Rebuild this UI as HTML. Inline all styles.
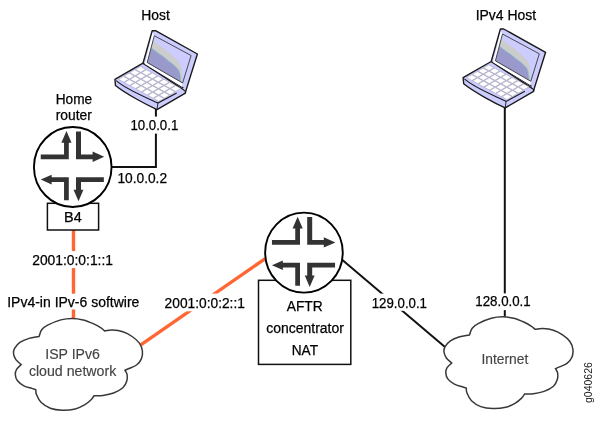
<!DOCTYPE html><html><head><meta charset="utf-8"><style>html,body{margin:0;padding:0;background:#fff;}svg{display:block;will-change:transform;}text{font-family:"Liberation Sans",sans-serif;fill:#000;stroke:#000;stroke-width:0.25px;}</style></head><body>
<svg width="600" height="424" viewBox="0 0 600 424">
<defs><g id="router"><ellipse cx="0" cy="0" rx="38.8" ry="40" fill="#fff" stroke="#000" stroke-width="1.9"/><path d="M-32,-12.6 L-8.7,-12.6 L-8.7,-24.2 L-11.4,-24.2 L-6.3,-35.9 L-1.2,-24.2 L-3.95,-24.2 L-3.95,-7.8 L-32,-7.8 Z" fill="#333"/><path d="M3.25,-35.5 L8.25,-35.5 L8.25,-12.6 L19.85,-12.6 L19.85,-15.4 L31.45,-10.2 L19.85,-5.0 L19.85,-7.8 L3.25,-7.8 Z" fill="#333"/><path d="M-32,12.6 L-21.1,7.8 L-21.1,10.2 L-3.95,10.2 L-3.95,33.2 L-8.7,33.2 L-8.7,15.0 L-21.1,15.0 L-21.1,17.4 Z" fill="#333"/><path d="M3.25,10.2 L31.1,10.2 L31.1,15.0 L8.25,15.0 L8.25,22.8 L10.7,22.8 L5.75,34.3 L0.8,22.8 L3.25,22.8 Z" fill="#333"/></g><g id="laptop"><path d="M143,63.2 L114.9,79.3 L115.5,85.5 C125.68,93.8 147.31,105.2 157.0,109.6 L185.4,93.1 L185.5,91 Z" fill="#CCCCFF" stroke="#1a1a1a" stroke-width="1.4" stroke-linejoin="round"/><path d="M140.51,66.54 L145.66,69.36 L140.69,72.26 L135.54,69.44 Z M134.86,69.84 L140.01,72.66 L135.04,75.56 L129.89,72.74 Z M129.21,73.14 L134.36,75.96 L129.39,78.86 L124.24,76.04 Z M123.56,76.44 L128.71,79.26 L123.74,82.16 L118.59,79.34 Z M146.36,69.74 L151.51,72.56 L146.54,75.46 L141.39,72.64 Z M140.71,73.04 L145.86,75.86 L140.89,78.76 L135.74,75.94 Z M135.06,76.34 L140.21,79.16 L135.24,82.06 L130.09,79.24 Z M129.41,79.64 L134.56,82.46 L129.59,85.36 L124.44,82.54 Z M152.21,72.94 L157.36,75.76 L152.39,78.66 L147.24,75.84 Z M146.56,76.24 L151.71,79.06 L146.74,81.96 L141.59,79.14 Z M140.91,79.54 L146.06,82.36 L141.09,85.26 L135.94,82.44 Z M135.26,82.84 L140.41,85.66 L135.44,88.56 L130.29,85.74 Z M158.06,76.14 L163.21,78.96 L158.24,81.86 L153.09,79.04 Z M152.41,79.44 L157.56,82.26 L152.59,85.16 L147.44,82.34 Z M146.76,82.74 L151.91,85.56 L146.94,88.46 L141.79,85.64 Z M141.11,86.04 L146.26,88.86 L141.29,91.76 L136.14,88.94 Z M163.91,79.34 L169.06,82.16 L164.09,85.06 L158.94,82.24 Z M158.26,82.64 L163.41,85.46 L158.44,88.36 L153.29,85.54 Z M152.61,85.94 L157.76,88.76 L152.79,91.66 L147.64,88.84 Z M146.96,89.24 L152.11,92.06 L147.14,94.96 L141.99,92.14 Z M169.76,82.54 L174.91,85.36 L169.94,88.26 L164.79,85.44 Z M164.11,85.84 L169.26,88.66 L164.29,91.56 L159.14,88.74 Z M158.46,89.14 L163.61,91.96 L158.64,94.86 L153.49,92.04 Z M152.81,92.44 L157.96,95.26 L152.99,98.16 L147.84,95.34 Z M175.61,85.74 L180.76,88.56 L175.79,91.46 L170.64,88.64 Z M169.96,89.04 L175.11,91.86 L170.14,94.76 L164.99,91.94 Z M164.31,92.34 L169.46,95.16 L164.49,98.06 L159.34,95.24 Z M158.66,95.64 L163.81,98.46 L158.84,101.36 L153.69,98.54 Z " fill="#fff" stroke="#9C98A8" stroke-width="0.5"/><path d="M116.2,80.6 C126.5,89.9 150.76,99.3 157.9,103.1 L176.7,93.0" fill="none" stroke="#1a1a1a" stroke-width="1.1"/><path d="M157.9,103.1 L157.0,109.4" fill="none" stroke="#1a1a1a" stroke-width="0.9"/><path d="M152.2,30.7 L155.5,30.7 L197.4,54 L185.5,91 L183.3,88.2 L143,63.2 Z" fill="#CCCCFF"/><path d="M143,63.2 L152.2,30.7 L155.5,30.7 L197.4,54 L185.3,92.6" fill="none" stroke="#1a1a1a" stroke-width="1.4" stroke-linejoin="round"/><path d="M143,63.2 L183.4,88" fill="none" stroke="#1a1a1a" stroke-width="1.1"/><path d="M152.6,32.6 L154.3,35.7 L147.2,62.5 L182.6,83 L182.3,87 L144.8,63.9 Z" fill="#fff"/><path d="M154.3,35.7 L191.1,55.5 L182.6,83 L147.2,62.5 Z" fill="#CCCCFF"/><path d="M152.90,41.00 C154.93,42.40 156.87,43.70 159.00,45.20 C161.13,46.70 163.45,48.25 165.70,50.00 C167.95,51.75 170.43,53.82 172.50,55.70 C174.57,57.58 176.68,59.52 178.10,61.30 C179.52,63.08 180.33,64.28 181.00,66.40 C181.67,68.52 181.87,71.48 182.10,74.00 C182.33,76.52 182.30,79.00 182.40,81.50  L182.6,83 L147.2,62.5 Z" fill="#CCCCCC"/><path d="M151.50,48.00 C153.50,49.53 155.42,51.08 157.50,52.60 C159.58,54.12 162.25,55.78 164.00,57.10 C165.75,58.42 166.68,59.47 168.00,60.50 C169.32,61.53 170.68,62.32 171.90,63.30 C173.12,64.28 174.27,65.42 175.30,66.40 C176.33,67.38 177.35,68.17 178.10,69.20 C178.85,70.23 179.38,71.13 179.80,72.60 C180.22,74.07 180.40,76.43 180.60,78.00 C180.80,79.57 180.87,80.67 181.00,82.00  L182.6,83 L147.2,62.5 Z" fill="#9999CC"/><path d="M151.50,48.00 C153.50,49.53 155.42,51.08 157.50,52.60 C159.58,54.12 162.25,55.78 164.00,57.10 C165.75,58.42 166.68,59.47 168.00,60.50 C169.32,61.53 170.68,62.32 171.90,63.30 C173.12,64.28 174.27,65.42 175.30,66.40 C176.33,67.38 177.35,68.17 178.10,69.20 C178.85,70.23 179.38,71.13 179.80,72.60 C180.22,74.07 180.40,76.43 180.60,78.00 C180.80,79.57 180.87,80.67 181.00,82.00 " fill="none" stroke="#88CCCC" stroke-width="0.7"/><path d="M154.3,35.7 L191.1,55.5 L182.6,83 L147.2,62.5 Z" fill="none" stroke="#3a3a3a" stroke-width="0.9"/></g><path id="cloud" d="M39.00,336.50 C39.90,334.27 40.27,331.68 41.70,329.80 C43.13,327.92 44.42,326.85 47.60,325.20 C50.78,323.55 56.73,321.03 60.80,319.90 C64.87,318.77 68.27,318.40 72.00,318.40 C75.73,318.40 79.57,318.98 83.20,319.90 C86.83,320.82 90.83,322.57 93.80,323.90 C96.77,325.23 99.20,326.73 101.00,327.90 C102.80,329.07 103.40,329.90 104.60,330.90 C107.17,330.63 109.25,329.95 112.30,330.10 C115.35,330.25 119.60,330.73 122.90,331.80 C126.20,332.87 129.35,334.62 132.10,336.50 C134.85,338.38 137.68,340.68 139.40,343.10 C141.12,345.52 142.07,348.37 142.40,351.00 C142.73,353.63 142.38,356.57 141.40,358.90 C140.42,361.23 138.57,363.40 136.50,365.00 C134.43,366.60 130.92,367.62 129.00,368.50 C127.08,369.38 126.33,369.70 125.00,370.30 C125.70,371.70 126.80,372.70 127.10,374.50 C127.40,376.30 127.50,378.88 126.80,381.10 C126.10,383.32 125.10,385.82 122.90,387.80 C120.70,389.78 116.92,391.73 113.60,393.00 C110.28,394.27 106.25,394.95 103.00,395.40 C99.75,395.85 97.07,395.60 94.10,395.70 C93.10,397.03 92.70,398.17 91.10,399.70 C89.50,401.23 87.13,403.37 84.50,404.90 C81.87,406.43 79.02,408.02 75.30,408.90 C71.58,409.78 66.37,410.32 62.20,410.20 C58.03,410.08 53.83,409.52 50.30,408.20 C46.77,406.88 43.32,404.60 41.00,402.30 C38.68,400.00 37.27,396.50 36.40,394.40 C35.53,392.30 36.00,391.27 35.80,389.70 C34.47,389.27 33.78,389.05 31.80,388.40 C29.82,387.75 26.32,387.12 23.90,385.80 C21.48,384.48 18.73,382.38 17.30,380.50 C15.87,378.62 15.42,376.37 15.30,374.50 C15.18,372.63 15.62,370.95 16.60,369.30 C17.58,367.65 19.67,366.17 21.20,364.60 C19.43,362.93 17.18,361.43 15.90,359.60 C14.62,357.77 13.72,355.48 13.50,353.60 C13.28,351.72 13.53,350.17 14.60,348.30 C15.67,346.43 17.48,344.05 19.90,342.40 C22.32,340.75 25.92,339.38 29.10,338.40 C32.28,337.42 35.70,337.13 39.00,336.50 Z" fill="#fff" stroke="#383838" stroke-width="1.5"/></defs>
<g fill="none" stroke="#111" stroke-width="2">
<path d="M155.9,109 L155.9,166.9 L111.4,166.9"/>
<path d="M342.4,260 L445,347"/>
<path d="M504.8,107.5 L504.8,316.7"/>
</g>
<g fill="none" stroke="#FF6633" stroke-width="3.4">
<path d="M73.5,230 L73.5,319"/>
<path d="M140.8,344.8 L265.6,258.4"/>
</g>
<rect x="47.4" y="203.3" width="51.2" height="26.7" fill="#fff" stroke="#111" stroke-width="1.5"/>
<rect x="258.5" y="280.3" width="92.3" height="84.1" fill="#fff" stroke="#111" stroke-width="1.5"/>
<use href="#router" x="72.75" y="167"/>
<use href="#router" x="303.95" y="252.6"/>
<use href="#cloud"/>
<use href="#cloud" x="430.5" y="-1.6"/>
<use href="#laptop"/>
<use href="#laptop" x="348.2" y="-1.7"/>
<g fill="#fff">
<rect x="129" y="116.6" width="52" height="17"/>
<rect x="30" y="251.1" width="85" height="17"/>
<rect x="5" y="293.7" width="136" height="15.8"/>
<rect x="162" y="293.6" width="85" height="17.7"/>
<rect x="369" y="293.6" width="60" height="17.2"/>
<rect x="473" y="293.4" width="60" height="16.7"/>
</g>
<g>
<text x="141.30" y="20" font-size="14" textLength="28.50" lengthAdjust="spacingAndGlyphs">Host</text>
<text x="475.70" y="20" font-size="14" textLength="60.40" lengthAdjust="spacingAndGlyphs">IPv4 Host</text>
<text x="55.70" y="104" font-size="14" textLength="36.49" lengthAdjust="spacingAndGlyphs">Home</text>
<text x="55.70" y="120" font-size="14" textLength="36.10" lengthAdjust="spacingAndGlyphs">router</text>
<text x="130.40" y="130" font-size="14" textLength="47.90" lengthAdjust="spacingAndGlyphs">10.0.0.1</text>
<text x="117.40" y="183" font-size="14" textLength="49.70" lengthAdjust="spacingAndGlyphs">10.0.0.2</text>
<text x="64.10" y="222" font-size="14" textLength="17.70" lengthAdjust="spacingAndGlyphs">B4</text>
<text x="32.20" y="265" font-size="14" textLength="80.81" lengthAdjust="spacingAndGlyphs">2001:0:0:1::1</text>
<text x="7.20" y="307" font-size="14" textLength="132.20" lengthAdjust="spacingAndGlyphs">IPv4-in IPv-6 softwire</text>
<text x="45.30" y="359" font-size="14" textLength="54.59" lengthAdjust="spacingAndGlyphs" style="fill:#444;stroke:#444;stroke-width:0.15px">ISP IPv6</text>
<text x="28.90" y="376" font-size="14" textLength="87.37" lengthAdjust="spacingAndGlyphs" style="fill:#444;stroke:#444;stroke-width:0.15px">cloud network</text>
<text x="164.60" y="308" font-size="14" textLength="80.31" lengthAdjust="spacingAndGlyphs">2001:0:0:2::1</text>
<text x="286.80" y="311" font-size="14" textLength="35.90" lengthAdjust="spacingAndGlyphs">AFTR</text>
<text x="266.30" y="333" font-size="14" textLength="77.59" lengthAdjust="spacingAndGlyphs">concentrator</text>
<text x="291.70" y="355" font-size="14" textLength="26.30" lengthAdjust="spacingAndGlyphs">NAT</text>
<text x="371.75" y="308" font-size="14" textLength="55.21" lengthAdjust="spacingAndGlyphs">129.0.0.1</text>
<text x="475.30" y="306" font-size="14" textLength="55.41" lengthAdjust="spacingAndGlyphs">128.0.0.1</text>
<text x="481.50" y="364" font-size="14" textLength="46.80" lengthAdjust="spacingAndGlyphs" style="fill:#444;stroke:#444;stroke-width:0.15px">Internet</text>
</g>
<g transform="translate(592.2,403) rotate(-90)"><text x="0.00" y="0" font-size="10.6" textLength="40.80" lengthAdjust="spacingAndGlyphs" style="fill:#222;stroke:none">g040626</text></g>
</svg></body></html>
